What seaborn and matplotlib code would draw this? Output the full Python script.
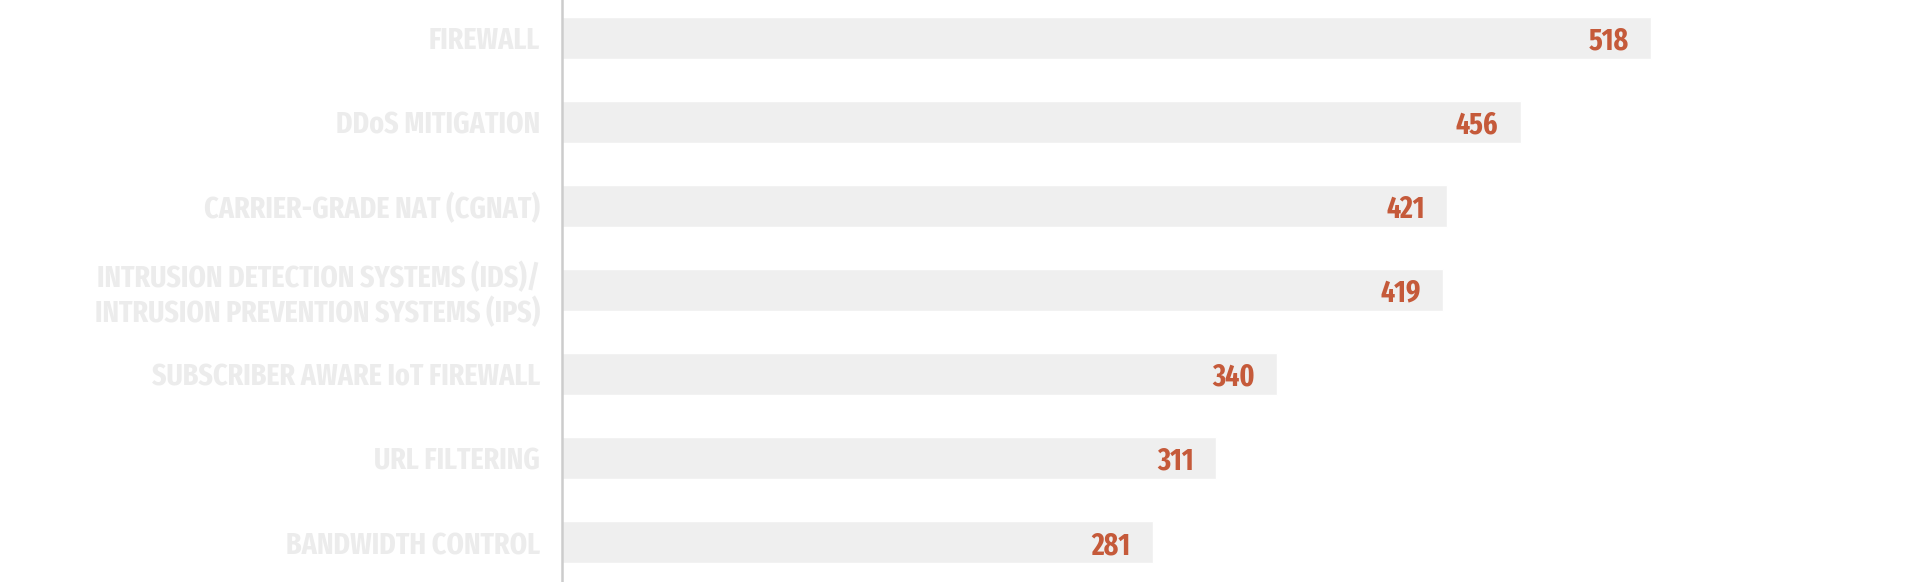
import matplotlib
matplotlib.use("Agg")
import matplotlib.pyplot as plt
from matplotlib import font_manager as fm
import seaborn as sns
import pandas as pd

categories = [
    "FIREWALL",
    "DDoS MITIGATION",
    "CARRIER-GRADE NAT (CGNAT)",
    "INTRUSION DETECTION SYSTEMS (IDS)/\nINTRUSION PREVENTION SYSTEMS (IPS)",
    "SUBSCRIBER AWARE IoT FIREWALL",
    "URL FILTERING",
    "BANDWIDTH CONTROL",
]
values = [518, 456, 421, 419, 340, 311, 281]

weights = {}
for f in fm.fontManager.ttflist:
    w = f.weight if isinstance(f.weight, int) else 400
    weights.setdefault(f.name, set()).add(w)
preferred = ["Fira Sans Extra Condensed", "Barlow Condensed", "Roboto Condensed",
             "Fira Sans Condensed", "Pragati Narrow"]
heavy = ["Fjalla One", "Anton"]
font = next((f for f in preferred if f in weights and max(weights[f]) >= 700), None)
if font is None:
    font = next((f for f in heavy if f in weights), "DejaVu Sans")

sns.set_theme(style="white")
plt.rcParams["font.family"] = [font, "DejaVu Sans"]

df = pd.DataFrame({"category": categories, "value": values})

W, H = 1920, 582
fig = plt.figure(figsize=(W / 100, H / 100), dpi=100)
ax = fig.add_axes([562 / W, 0, 1 - 562 / W, 1])

sns.barplot(data=df, x="value", y="category", orient="h", color="#efefef",
            saturation=1, width=0.5, ax=ax)

ax.set_xlim(0, 646)
ax.set_ylim(6.47, -0.45)
ax.set_xlabel("")
ax.set_ylabel("")
ax.set_xticks([])
for s in ["top", "right", "bottom"]:
    ax.spines[s].set_visible(False)
ax.spines["left"].set_color("#cccccc")
ax.spines["left"].set_linewidth(1.8)

# size fonts so that text widths match the reference
renderer = fig.canvas.get_renderer()
probe = fig.text(0, 0, "INTRUSION PREVENTION SYSTEMS (IPS)", fontsize=20, fontweight="bold")
wpx = probe.get_window_extent(renderer).width
probe.remove()
label_size = 20 * 445 / wpx
probe = fig.text(0, 0, "518", fontsize=20, fontweight="bold")
wpx = probe.get_window_extent(renderer).width
probe.remove()
value_size = 20 * 40 / wpx

ax.tick_params(axis="y", length=0, pad=16)
for lab in ax.get_yticklabels():
    lab.set_fontsize(label_size)
    lab.set_fontweight("bold")
    lab.set_color("#ececec")
    lab.set_linespacing(1.15)
    lab.set_horizontalalignment("right")
    lab.set_multialignment("right")

for i, v in enumerate(values):
    ax.annotate(str(v), xy=(v, i), xytext=(-16, 0), textcoords="offset points",
                ha="right", va="center_baseline", fontsize=value_size, fontweight="bold",
                color="#c55a3a")

fig.savefig("out.png", dpi=100, facecolor="white")
